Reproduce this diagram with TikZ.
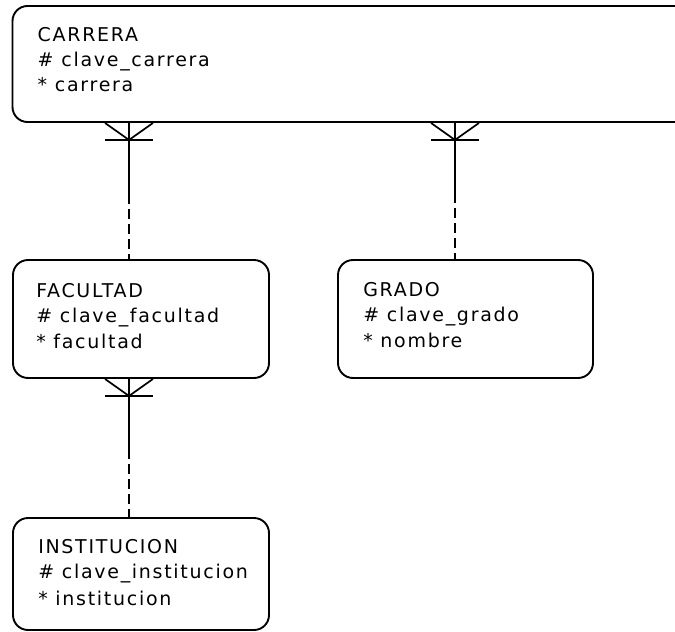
\documentclass[tikz,border=0pt]{standalone}
\usepackage{fontspec}
\setmainfont{DejaVu Sans}[LetterSpace=9]
\usetikzlibrary{calc}
\begin{document}
\begin{tikzpicture}[x=1pt,y=-1pt,
  ent/.style={draw=black, line width=1.9pt, rounded corners=15pt, inner sep=0pt},
  txt/.style={anchor=base west, inner sep=0pt, font=\fontsize{19}{22}\selectfont},
  rel/.style={line width=1.7pt, draw=black},
  dashedrel/.style={rel, dash pattern=on 10pt off 5pt}]
\clip (0,0) rectangle (675,632);
\fill[white] (0,0) rectangle (675,632);

% entities
\node[ent, minimum width=687.5pt, minimum height=116pt] (carrera) at (356.25,64) {};
\node[ent, minimum width=256pt, minimum height=118pt] (fac) at (141,319) {};
\node[ent, minimum width=255pt, minimum height=118pt] (grado) at (465.5,319) {};
\node[ent, minimum width=256pt, minimum height=112pt] (inst) at (141,574) {};

% texts
\node[txt] (carrera1) at ($(carrera.north west)+(26,36)$) {CARRERA};
\node[txt] (carrera2) at ($(carrera.north west)+(26,61)$) {\# clave\_carrera};
\node[txt] (carrera3) at ($(carrera.north west)+(26,86)$) {* carrera};

\node[txt] (fac1) at ($(fac.north west)+(24,38)$) {FACULTAD};
\node[txt] (fac2) at ($(fac.north west)+(24,63)$) {\# clave\_facultad};
\node[txt] (fac3) at ($(fac.north west)+(24,89)$) {* facultad};

\node[txt] (grado1) at ($(grado.north west)+(26,37)$) {GRADO};
\node[txt] (grado2) at ($(grado.north west)+(26,62)$) {\# clave\_grado};
\node[txt] (grado3) at ($(grado.north west)+(26,88)$) {* nombre};

\node[txt] (inst1) at ($(inst.north west)+(26,36)$) {INSTITUCION};
\node[txt] (inst2) at ($(inst.north west)+(26,61)$) {\# clave\_institucion};
\node[txt] (inst3) at ($(inst.north west)+(26,88)$) {* institucion};

% connector x positions
\coordinate (xa) at (129,0);
\coordinate (xb) at (455,0);

\coordinate (p1) at (carrera.south -| xa);
\coordinate (q1) at (fac.north -| xa);
\coordinate (p2) at (carrera.south -| xb);
\coordinate (q2) at (grado.north -| xb);
\coordinate (p3) at (fac.south -| xa);
\coordinate (q3) at (inst.north -| xa);

\foreach \p/\q/\s in {p1/q1/71, p2/q2/70, p3/q3/70}{
  \draw[rel] ($(\p)+(-24,0)$) -- ($(\p)+(0,17)$) -- ($(\p)+(24,0)$);
  \draw[rel] ($(\p)+(-24,17)$) -- ($(\p)+(24,17)$);
  \draw[rel] (\p) -- ($(\p)+(0,\s)$) coordinate (m);
  \draw[dashedrel] (m) -- (\q);
}
\end{tikzpicture}
\end{document}
